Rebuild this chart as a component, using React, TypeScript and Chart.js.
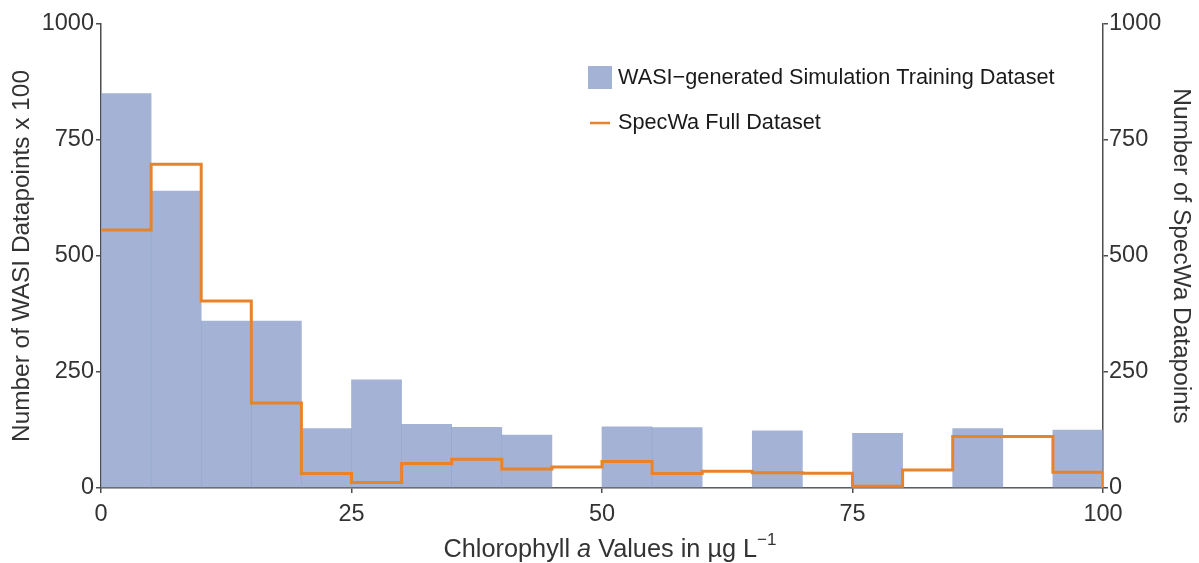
import React, { useEffect, useRef } from 'react';
import { Chart, registerables } from 'chart.js';

Chart.register(...registerables);

// ---- data ----
const binStarts = [0, 5, 10, 15, 20, 25, 30, 35, 40, 45, 50, 55, 60, 65, 70, 75, 80, 85, 90, 95];
const binWidth = 5;
const wasiCounts = [850, 640, 360, 360, 128, 233, 137, 131, 114, 0, 132, 130, 0, 123, 0, 118, 0, 128, 0, 125];
const specwaCounts = [556, 698, 403, 183, 31, 12, 53, 62, 41, 45, 57, 31, 36, 33, 32, 4, 39, 111, 111, 34];
const xTicks = [0, 25, 50, 75, 100];
const yTicks = [0, 250, 500, 750, 1000];
const wasiLabel = 'WASI\u2212generated Simulation Training Dataset';
const specwaLabel = 'SpecWa Full Dataset';
const leftTitle = 'Number of WASI Datapoints x 100';
const rightTitle = 'Number of SpecWa Datapoints';

// ---- style ----
const BAR = 'rgba(141,160,203,0.8)';
const LINE = '#E8832A';
const AXIS = '#4d4d4d';
const TEXT = '#333333';
const FONT = '"Liberation Sans", Arial, Helvetica, sans-serif';

const overlayPlugin = {
  id: 'overlay',
  afterDraw(chart: any) {
    const { ctx, chartArea: ca } = chart;
    ctx.save();
    // legend
    const lx = ca.left + 487;
    const ly = ca.top + 42;
    ctx.fillStyle = BAR;
    ctx.fillRect(lx, ly, 24, 23);
    ctx.strokeStyle = LINE;
    ctx.lineWidth = 2.5;
    ctx.beginPath();
    ctx.moveTo(lx + 2, ly + 57);
    ctx.lineTo(lx + 22, ly + 57);
    ctx.stroke();
    ctx.fillStyle = '#1a1a1a';
    ctx.font = `21.7px ${FONT}`;
    ctx.textBaseline = 'middle';
    ctx.textAlign = 'left';
    ctx.fillText(wasiLabel, lx + 30, ly + 12);
    ctx.fillText(specwaLabel, lx + 30, ly + 57);

    // x title with italic a and superscript
    ctx.fillStyle = TEXT;
    ctx.textBaseline = 'alphabetic';
    const normal = `25.3px ${FONT}`;
    const italic = `italic 25.3px ${FONT}`;
    const sup = `17px ${FONT}`;
    const parts: [string, string, number][] = [
      ['Chlorophyll ', normal, 0],
      ['a', italic, 0],
      [' Values in \u00b5g L', normal, 0],
      ['\u22121', sup, -12],
    ];
    let total = 0;
    for (const [t, f] of parts) { ctx.font = f; total += ctx.measureText(t).width; }
    let x = (ca.left + ca.right) / 2 + 8 - total / 2;
    const base = 557;
    for (const [t, f, dy] of parts) {
      ctx.font = f;
      ctx.fillText(t, x, base + dy);
      x += ctx.measureText(t).width;
    }
    ctx.restore();
  },
};

export default function App() {
  const ref = useRef<HTMLCanvasElement>(null);
  useEffect(() => {
    document.body.style.margin = '0';
    const canvas = ref.current!;
    const barData = binStarts.map((s, i) => ({ x: s + binWidth / 2, y: wasiCounts[i] }));
    const last = specwaCounts[specwaCounts.length - 1];
    const end = binStarts[binStarts.length - 1] + binWidth;
    const lineData = [
      ...binStarts.map((s, i) => ({ x: s, y: specwaCounts[i] })),
      { x: end, y: last },
      { x: end, y: 0 },
    ];
    const tickFont = { family: FONT, size: 23.5 };
    const titleFont = { family: FONT, size: 24.4 };
    const fmt = (v: any) => String(v);
    const chart = new Chart(canvas, {
      type: 'bar',
      data: {
        datasets: [
          {
            type: 'line',
            label: specwaLabel,
            data: lineData,
            xAxisID: 'x',
            yAxisID: 'y2',
            borderColor: LINE,
            borderWidth: 3,
            pointRadius: 0,
            stepped: 'before',
            borderJoinStyle: 'miter',
            borderCapStyle: 'butt',
            fill: false,
            order: 0,
          } as any,
          {
            type: 'bar',
            label: wasiLabel,
            data: barData,
            xAxisID: 'x',
            yAxisID: 'y',
            backgroundColor: BAR,
            borderWidth: 0,
            barPercentage: 1,
            categoryPercentage: 1,
            order: 1,
          } as any,
        ],
      },
      options: {
        responsive: false,
        animation: false,
        layout: { padding: { top: 24, left: 0, right: 0, bottom: 0 } },
        plugins: { legend: { display: false }, tooltip: { enabled: false } },
        scales: {
          x: {
            type: 'linear',
            position: 'bottom',
            min: 0,
            max: 100,
            offset: false,
            z: 1,
            afterFit: (s: any) => { s.height = 75; },
            afterBuildTicks: (s: any) => { s.ticks = xTicks.map((v) => ({ value: v })); },
            grid: { display: true, offset: false, drawOnChartArea: false, drawTicks: true, tickLength: 5, color: AXIS, lineWidth: 1.5 },
            border: { display: true, color: AXIS, width: 1.5 },
            ticks: { font: tickFont, color: TEXT, padding: 7, maxRotation: 0, callback: fmt },
          } as any,
          y: {
            type: 'linear',
            position: 'left',
            min: 0,
            max: 1000,
            z: 1,
            afterFit: (s: any) => { s.width = 101; },
            afterBuildTicks: (s: any) => { s.ticks = yTicks.map((v) => ({ value: v })); },
            grid: { display: true, drawOnChartArea: false, drawTicks: true, tickLength: 5, color: AXIS, lineWidth: 1.5 },
            border: { display: true, color: AXIS, width: 1.5 },
            ticks: { font: tickFont, color: TEXT, padding: 2, callback: fmt },
            title: { display: true, text: leftTitle, font: titleFont, color: TEXT, padding: { top: 8, bottom: 0 } },
          } as any,
          y2: {
            type: 'linear',
            position: 'right',
            min: 0,
            max: 1000,
            afterFit: (s: any) => { s.width = 96; },
            afterBuildTicks: (s: any) => { s.ticks = yTicks.map((v) => ({ value: v })); },
            grid: { display: true, drawOnChartArea: false, drawTicks: true, tickLength: 5, color: AXIS, lineWidth: 1.5 },
            border: { display: true, color: AXIS, width: 1.5 },
            ticks: { font: tickFont, color: TEXT, padding: 1, callback: fmt },
            title: { display: true, text: rightTitle, font: titleFont, color: TEXT, padding: { top: 4, bottom: 0 } },
          } as any,
        },
      },
      plugins: [overlayPlugin],
    });
    return () => chart.destroy();
  }, []);
  return (
    <div style={{ width: 1199, height: 563 }}>
      <canvas ref={ref} width={1199} height={563} style={{ display: 'block' }} />
    </div>
  );
}
